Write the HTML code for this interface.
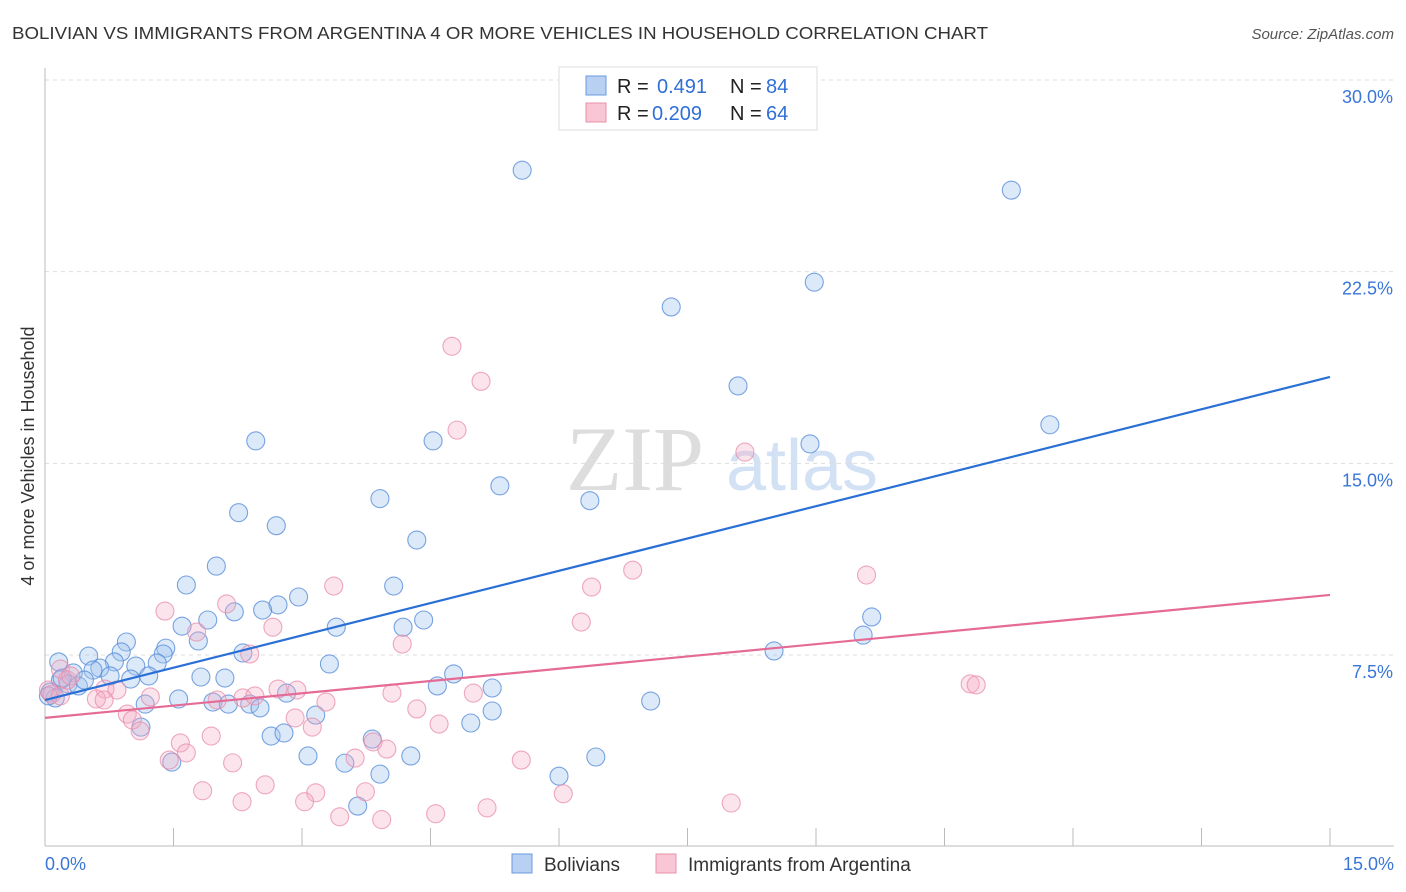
<!DOCTYPE html>
<html><head><meta charset="utf-8"><style>
body{margin:0;background:#fff;font-family:"Liberation Sans",sans-serif;}
svg{display:block}
</style></head><body>
<svg id="chart" width="1406" height="892">
<text x="12" y="39" font-size="17.5" fill="#333" textLength="976" lengthAdjust="spacingAndGlyphs">BOLIVIAN VS IMMIGRANTS FROM ARGENTINA 4 OR MORE VEHICLES IN HOUSEHOLD CORRELATION CHART</text>
<text x="1394" y="39" font-size="15" fill="#555" font-style="italic" text-anchor="end">Source: ZipAtlas.com</text>
<g>
<text x="635" y="490" font-size="92" fill="#ddd" font-family="Liberation Serif,serif" text-anchor="middle">ZIP</text>
<text x="802" y="490" font-size="72" fill="#d3e1f5" text-anchor="middle">atlas</text>
</g>
<g id="grid"></g>
<g id="axes"></g>
<g id="pts"></g>
<g id="lines"></g>
<g>
<rect x="559" y="67" width="258" height="63" fill="#fff" stroke="#ddd"/>
<rect x="586" y="76" width="20" height="19" fill="#b8d0f2" stroke="#6a9ae0"/>
<text x="617" y="93" font-size="20" fill="#222">R =</text>
<text x="657" y="93" font-size="20" fill="#2f6fd6">0.491</text>
<text x="730" y="93" font-size="20" fill="#222">N =</text>
<text x="766" y="93" font-size="20" fill="#2f6fd6">84</text>
<rect x="586" y="103" width="20" height="19" fill="#f8c6d4" stroke="#e890a8"/>
<text x="617" y="120" font-size="20" fill="#222">R =</text>
<text x="652" y="120" font-size="20" fill="#2f6fd6">0.209</text>
<text x="730" y="120" font-size="20" fill="#222">N =</text>
<text x="766" y="120" font-size="20" fill="#2f6fd6">64</text>
</g>
<g>
<rect x="512" y="854" width="20" height="19" fill="#b8d0f2" stroke="#6a9ae0"/>
<text x="544" y="871" font-size="19" fill="#333">Bolivians</text>
<rect x="656" y="854" width="20" height="19" fill="#f8c6d4" stroke="#e890a8"/>
<text x="688" y="871" font-size="19" fill="#333">Immigrants from Argentina</text>
</g>
<text transform="translate(34,456) rotate(-90)" font-size="18" fill="#333" text-anchor="middle">4 or more Vehicles in Household</text>
</svg>
<script>
const yTicks=[7.5,15,22.5,30];
const yTickLabels=["7.5%","15.0%","22.5%","30.0%"];
const xTickLabels=["0.0%","15.0%"];
const blueX=[5.57,11.28,8.98,7.31,8.09,11.73,2.46,4.53,8.93,5.31,3.91,6.36,2.26,2.70,4.34,2.00,1.65,4.07,2.96,2.72,2.54,1.90,2.21,4.42,9.65,1.60,3.40,4.18,9.55,0.95,1.79,1.41,1.38,0.89,0.51,2.31,8.51,0.16,0.81,1.06,1.31,3.32,0.64,0.56,0.33,1.21,0.76,1.00,1.82,2.10,4.77,0.18,0.27,0.39,0.06,0.12,2.82,1.56,1.96,4.58,5.22,7.07,2.39,2.51,2.14,1.17,3.16,5.22,1.12,4.97,2.64,2.79,3.82,3.07,4.27,6.43,1.48,3.50,3.91,6.00,3.65,0.04,0.20,0.46];
const blueY=[26.47,25.69,22.09,21.12,18.03,16.51,15.88,15.88,15.76,14.12,13.62,13.54,13.07,12.56,12.00,10.98,10.24,10.20,9.77,9.46,9.26,8.87,9.19,8.87,8.99,8.63,8.59,8.59,8.28,8.01,8.05,7.77,7.54,7.62,7.46,7.58,7.66,7.23,7.23,7.07,7.19,7.15,6.99,6.91,6.80,6.68,6.68,6.56,6.64,6.60,6.76,6.52,6.37,6.29,6.05,5.82,6.01,5.78,5.66,6.29,6.21,5.70,5.58,5.43,5.58,5.58,5.15,5.31,4.68,4.84,4.33,4.45,4.21,3.55,3.55,3.51,3.31,3.27,2.84,2.76,1.59,5.90,6.60,6.52];
const pinkX=[4.75,5.09,4.81,8.17,6.86,9.59,3.37,6.38,1.40,2.12,1.77,2.66,6.26,4.17,2.39,0.18,0.26,0.30,0.04,0.08,0.70,0.84,0.60,0.69,1.23,2.01,2.31,2.45,2.72,2.94,3.28,4.05,5.00,10.80,10.87,0.96,1.02,4.34,2.92,3.12,4.60,1.58,1.65,1.94,3.83,3.99,1.45,3.62,5.56,2.19,2.57,1.84,3.16,3.74,3.03,2.30,6.05,5.16,8.01,3.44,4.56,3.93,0.18,1.11];
const pinkY=[19.58,18.21,16.30,15.44,10.82,10.63,10.20,10.16,9.22,9.50,8.40,8.59,8.79,7.93,7.54,6.95,6.52,6.68,6.13,5.97,6.17,6.13,5.78,5.74,5.86,5.74,5.82,5.90,6.17,6.13,5.66,6.01,6.01,6.37,6.33,5.19,4.96,5.39,5.04,4.68,4.80,4.06,3.67,4.33,4.10,3.82,3.39,3.47,3.39,3.28,2.42,2.19,2.11,2.15,1.76,1.76,2.07,1.52,1.71,1.17,1.29,1.06,5.90,4.53];
const blueTrend=[5.74,18.38];
const pinkTrend=[5.04,9.85];
const NS="http://www.w3.org/2000/svg";
const X0=45,X1=1330,Y0=846.7,Y30=80;
const sx=v=>X0+(X1-X0)*v/15;
const sy=v=>Y0-(Y0-Y30)*v/30;
function mk(t,a,p){const e=document.createElementNS(NS,t);for(const k in a)e.setAttribute(k,a[k]);p.appendChild(e);return e;}
const grid=document.getElementById('grid'),axes=document.getElementById('axes');
yTicks.forEach((v,i)=>{
 const l=mk('line',{x1:X0,x2:1394,y1:sy(v),y2:sy(v),stroke:'#ddd','stroke-dasharray':'4,4'},grid);
 
 
 const t=mk('text',{x:1393,y:sy(v)+23,'font-size':18,fill:'#3a76d8','text-anchor':'end'},axes);
 t.textContent=yTickLabels[i];
 
 
});
const ax=mk('line',{x1:X0,x2:X0,y1:68,y2:846,stroke:'#bbb'},axes);


const bx=mk('line',{x1:X0,x2:1394,y1:846,y2:846,stroke:'#bbb'},axes);


for(let i=0;i<=10;i++){const v=i*1.5;const tk=mk('line',{x1:sx(v),x2:sx(v),y1:828,y2:846,stroke:'#bbb'},axes);
 
 }
[[0,'start',45],[15,'end',1394]].forEach((d,i)=>{const t=mk('text',{x:d[2],y:870,'font-size':18,fill:'#3a76d8','text-anchor':d[1]},axes);t.textContent=xTickLabels[i];
 
 });
const pts=document.getElementById('pts');
blueX.forEach((x,i)=>{const c=mk('circle',{cx:sx(x),cy:sy(blueY[i]),r:9,fill:'rgba(160,196,240,0.38)',stroke:'rgba(80,135,215,0.75)','stroke-width':1.1},pts);
 
 });
pinkX.forEach((x,i)=>{const c=mk('circle',{cx:sx(x),cy:sy(pinkY[i]),r:9,fill:'rgba(245,170,195,0.32)',stroke:'rgba(232,140,170,0.75)','stroke-width':1.1},pts);
 
 });
const lines=document.getElementById('lines');
const lb=mk('line',{x1:sx(0),y1:sy(blueTrend[0]),x2:sx(15),y2:sy(blueTrend[1]),stroke:'#2a6fd6','stroke-width':2.2},lines);


const lp=mk('line',{x1:sx(0),y1:sy(pinkTrend[0]),x2:sx(15),y2:sy(pinkTrend[1]),stroke:'#e56b96','stroke-width':2.2},lines);


</script>
</body></html>
